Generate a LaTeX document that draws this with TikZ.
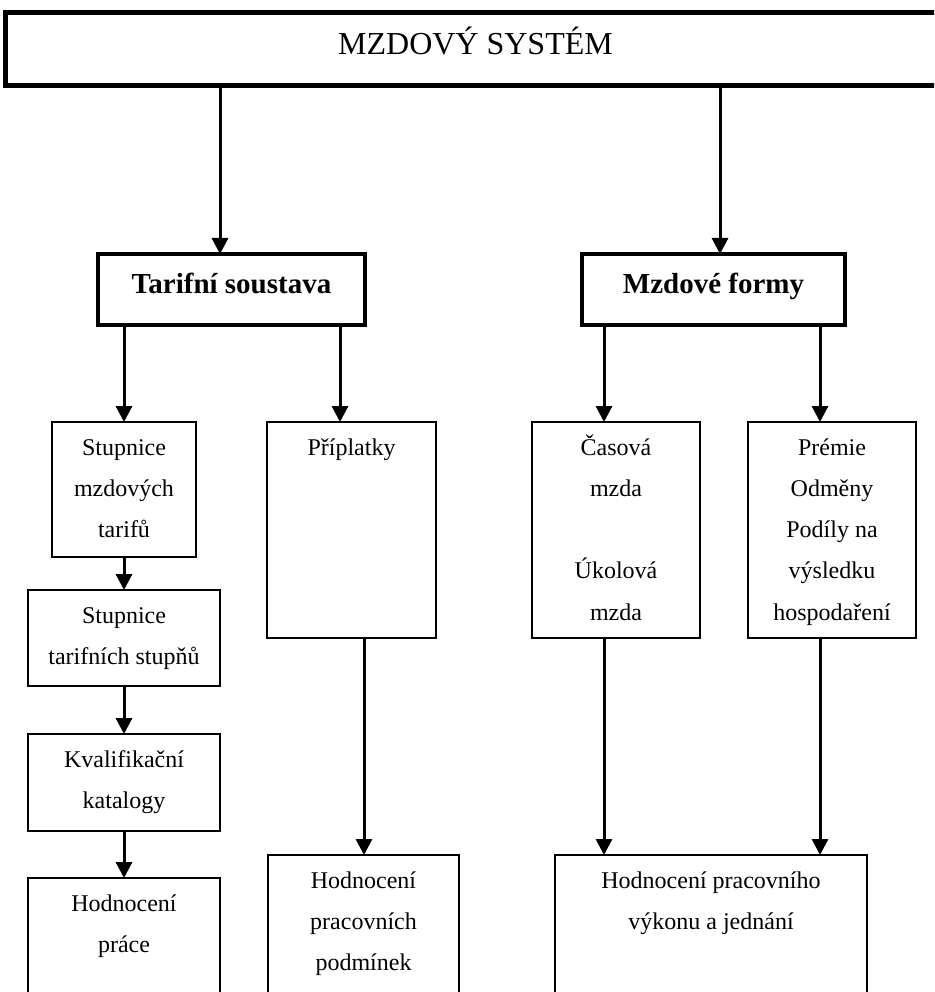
\documentclass[tikz,border=0pt]{standalone}
\usepackage{fontspec}
\setmainfont{Liberation Serif}
\usetikzlibrary{arrows.meta}
\tikzset{
  bx/.style={draw, rectangle, inner sep=0pt, outer sep=0pt, anchor=north west, line width=2.2pt},
  bigbx/.style={bx, line width=5pt},
  boldbx/.style={bx, line width=4pt},
  txt/.style={inner sep=0pt, font=\fontsize{24}{28}\selectfont},
  arr/.style={line width=3pt, -{Triangle[length=16pt,width=16pt]}},
}
\newcommand\boxline[4]{\node[txt,anchor=base] (#1) at ([yshift={-(33+41.3*#3)*1pt}]#2.north) {#4};}
\newcommand\mkbox[6][bx]{\node[#1, minimum width={(#5-#3)*1pt}, minimum height={(#6-#4)*1pt}] (#2) at (#3,#4) {};}
\begin{document}
\begin{tikzpicture}[x=1pt,y=-1pt]
\path[use as bounding box, clip] (0,0) rectangle (934,992);
% boxes
\mkbox[bigbx]{top}{5}{13}{946}{86}
\mkbox[boldbx]{tarif}{98}{254}{365}{325}
\mkbox[boldbx]{mzd}{582}{254}{845}{325}
\mkbox{s1}{52}{422}{196}{557}
\mkbox{s2}{28}{590}{220}{686}
\mkbox{s3}{28}{734}{220}{831}
\mkbox{s4}{28}{878}{220}{1010}
\mkbox{p1}{267}{422}{436}{638}
\mkbox{p2}{268}{855}{459}{1010}
\mkbox{c1}{532}{422}{700}{638}
\mkbox{c2}{748}{422}{916}{638}
\mkbox{h}{555}{855}{867}{1010}
% texts
\node[inner sep=0pt, anchor=base, font=\fontsize{32}{38}\selectfont] (toptxt) at ([yshift=-42pt]top.north) {MZDOVÝ SYSTÉM};
\node[inner sep=0pt, anchor=base, font=\fontsize{29}{34}\selectfont\bfseries] (tariftxt) at ([yshift=-39pt]tarif.north) {Tarifní soustava};
\node[inner sep=0pt, anchor=base, font=\fontsize{29}{34}\selectfont\bfseries] (mzdtxt) at ([yshift=-39pt]mzd.north) {Mzdové formy};
\boxline{s1a}{s1}{0}{Stupnice}
\boxline{s1b}{s1}{1}{mzdových}
\boxline{s1c}{s1}{2}{tarifů}
\boxline{s2a}{s2}{0}{Stupnice}
\boxline{s2b}{s2}{1}{tarifních stupňů}
\boxline{s3a}{s3}{0}{Kvalifikační}
\boxline{s3b}{s3}{1}{katalogy}
\boxline{s4a}{s4}{0}{Hodnocení}
\boxline{s4b}{s4}{1}{práce}
\boxline{p1a}{p1}{0}{Příplatky}
\boxline{p2a}{p2}{0}{Hodnocení}
\boxline{p2b}{p2}{1}{pracovních}
\boxline{p2c}{p2}{2}{podmínek}
\boxline{c1a}{c1}{0}{Časová}
\boxline{c1b}{c1}{1}{mzda}
\boxline{c1c}{c1}{3}{Úkolová}
\boxline{c1d}{c1}{4}{mzda}
\boxline{c2a}{c2}{0}{Prémie}
\boxline{c2b}{c2}{1}{Odměny}
\boxline{c2c}{c2}{2}{Podíly na}
\boxline{c2d}{c2}{3}{výsledku}
\boxline{c2e}{c2}{4}{hospodaření}
\boxline{ha}{h}{0}{Hodnocení pracovního}
\boxline{hb}{h}{1}{výkonu a jednání}
% connector columns
\coordinate (xa) at (220,0);
\coordinate (xb) at (720,0);
\coordinate (xc) at (124,0);
\coordinate (xd) at (340,0);
\coordinate (xe) at (604,0);
\coordinate (xf) at (820,0);
\coordinate (xg) at (364,0);
% arrows
\draw[arr] (top.south -| xa) -- (tarif.north -| xa);
\draw[arr] (top.south -| xb) -- (mzd.north -| xb);
\draw[arr] (tarif.south -| xc) -- (s1.north -| xc);
\draw[arr] (tarif.south -| xd) -- (p1.north -| xd);
\draw[arr] (mzd.south -| xe) -- (c1.north -| xe);
\draw[arr] (mzd.south -| xf) -- (c2.north -| xf);
\draw[arr] (s1.south -| xc) -- (s2.north -| xc);
\draw[arr] (s2.south -| xc) -- (s3.north -| xc);
\draw[arr] (s3.south -| xc) -- (s4.north -| xc);
\draw[arr] (p1.south -| xg) -- (p2.north -| xg);
\draw[arr] (c1.south -| xe) -- (h.north -| xe);
\draw[arr] (c2.south -| xf) -- (h.north -| xf);
\end{tikzpicture}
\end{document}
